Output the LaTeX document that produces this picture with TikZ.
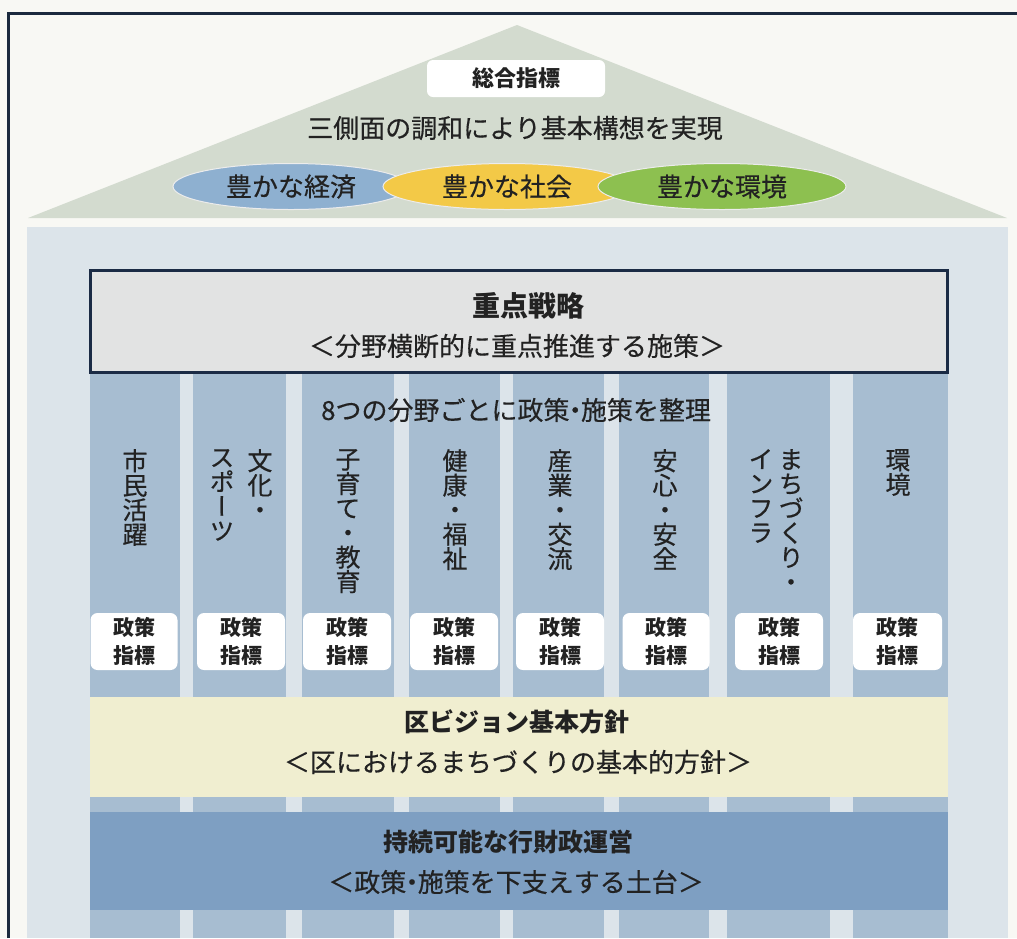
\documentclass[tikz,border=0pt]{standalone}
\usepackage{fontspec}
\setmainfont{Noto Sans CJK JP}
\newfontfamily\vjp[RawFeature=+vert, FakeBold=0.5]{Noto Sans CJK JP}
\newfontfamily\mjp[FakeBold=0.4]{Noto Sans CJK JP}
\usetikzlibrary{shapes.geometric}
\definecolor{frameline}{HTML}{1B2A3E}
\definecolor{pagebg}{HTML}{F8F8F4}
\definecolor{roof}{HTML}{D3DBCF}
\definecolor{bodybg}{HTML}{DCE4EA}
\definecolor{colfill}{HTML}{A7BDD1}
\definecolor{boxfill}{HTML}{E2E3E3}
\definecolor{boxline}{HTML}{1B2B45}
\definecolor{yband}{HTML}{F0EED0}
\definecolor{bband}{HTML}{7E9FC2}
\definecolor{elblue}{HTML}{8EB0D0}
\definecolor{elyellow}{HTML}{F3C947}
\definecolor{elgreen}{HTML}{8DC050}
\definecolor{ink}{HTML}{222222}
\newcommand{\nd}{\hspace{-0.28em}・\hspace{-0.28em}}
\tikzset{
  txt/.style={inner sep=0pt, text=ink, font=\mjp\fontsize{26}{30}\selectfont},
  ttl/.style={inner sep=0pt, text=ink, font=\bfseries\fontsize{25}{30}\selectfont},
  elli/.style={ellipse, draw=white!85!gray, line width=1pt, minimum width=#1, minimum height=46pt, inner sep=0pt, text=ink, font=\mjp\fontsize{26}{30}\selectfont},
  vlab/.style={anchor=north, inner sep=0pt, align=center, text=ink, font=\vjp\fontsize{25}{24.5}\selectfont},
  indic/.style={fill=white, rounded corners=7pt, inner sep=0pt, align=center, text=ink, minimum height=57pt, font=\bfseries\fontsize{21}{28}\selectfont},
  colbar/.style={fill=colfill, draw=none}
}
\begin{document}
\begin{tikzpicture}[x=1pt,y=-1pt]
\useasboundingbox (0,0) rectangle (1017,938);
\fill[pagebg] (0,0) rectangle (1017,938);
% frame
\draw[frameline, line width=3.5pt] (8.5,938) -- (8.5,13.5) -- (1017,13.5);
% roof
\fill[roof] (28,218) -- (517,25) -- (1007,218) -- cycle;
\node[fill=white, rounded corners=6pt, minimum width=178pt, minimum height=37pt, inner sep=0pt, text=ink, font=\bfseries\fontsize{22}{26}\selectfont] (sogo) at (516,78.5) {総合指標};
\node[txt] (harmony) at (515,128) {三側面の調和により基本構想を実現};
\node[elli=236pt, fill=elblue] (econ) at (291,186.5) {豊かな経済};
\node[elli=248pt, fill=elyellow] (soc) at (507,186.5) {豊かな社会};
\node[elli=248pt, fill=elgreen] (env) at (722,186.5) {豊かな環境};
% body
\fill[bodybg] (27,227) rectangle (1008,938);
% columns
\foreach \a/\b in {90/180,193/286,302/394,409/500,513/604,619/709,727/830,853/948}
  \fill[colbar] (\a,372) rectangle (\b,938);
% key strategy box
\node[draw=boxline, line width=3pt, fill=boxfill, minimum width=857pt, minimum height=102pt, inner sep=0pt] (strat) at (518.5,321) {};
\node[ttl, font=\bfseries\fontsize{28}{30}\selectfont] (strat-t) at (528,306) {重点戦略};
\node[txt] (strat-s) at (517,346) {＜分野横断的に重点推進する施策＞};
\node[txt] (eight) at (516,410) {8つの分野ごとに政策\nd 施策を整理};
% vertical labels
\node[vlab] (v1) at (135,449) {市\\民\\活\\躍};
\node[vlab] (v2a) at (260,449) {文\\化\\・};
\node[vlab] (v2b) at (222,449) {ス\\ポ\\ー\\ツ};
\node[vlab] (v3) at (348,449) {子\\育\\て\\・\\教\\育};
\node[vlab] (v4) at (455,449) {健\\康\\・\\福\\祉};
\node[vlab] (v5) at (560,449) {産\\業\\・\\交\\流};
\node[vlab] (v6) at (665,449) {安\\心\\・\\安\\全};
\node[vlab] (v7a) at (791,449) {ま\\ち\\づ\\く\\り\\・};
\node[vlab] (v7b) at (761,449) {イ\\ン\\フ\\ラ};
\node[vlab] (v8) at (898,449) {環\\境};
% policy indicator boxes
\node[indic, minimum width=87pt] (p1) at (134,641.5) {政策\\指標};
\node[indic, minimum width=88pt] (p2) at (241,641.5) {政策\\指標};
\node[indic, minimum width=88pt] (p3) at (347,641.5) {政策\\指標};
\node[indic, minimum width=88pt] (p4) at (454,641.5) {政策\\指標};
\node[indic, minimum width=88pt] (p5) at (560,641.5) {政策\\指標};
\node[indic, minimum width=87pt] (p6) at (666,641.5) {政策\\指標};
\node[indic, minimum width=88pt] (p7) at (779,641.5) {政策\\指標};
\node[indic, minimum width=89pt] (p8) at (897.5,641.5) {政策\\指標};
% yellow band
\node[fill=yband, minimum width=858pt, minimum height=100pt, inner sep=0pt] (vision) at (519,747) {};
\node[ttl] (vision-t) at (517,722) {区ビジョン基本方針};
\node[txt] (vision-s) at (518,762) {＜区におけるまちづくりの基本的方針＞};
% blue band
\node[fill=bband, minimum width=858pt, minimum height=98pt, inner sep=0pt] (found) at (519,861) {};
\node[ttl] (found-t) at (508,842) {持続可能な行財政運営};
\node[txt] (found-s) at (516,882) {＜政策\nd 施策を下支えする土台＞};
\end{tikzpicture}
\end{document}
